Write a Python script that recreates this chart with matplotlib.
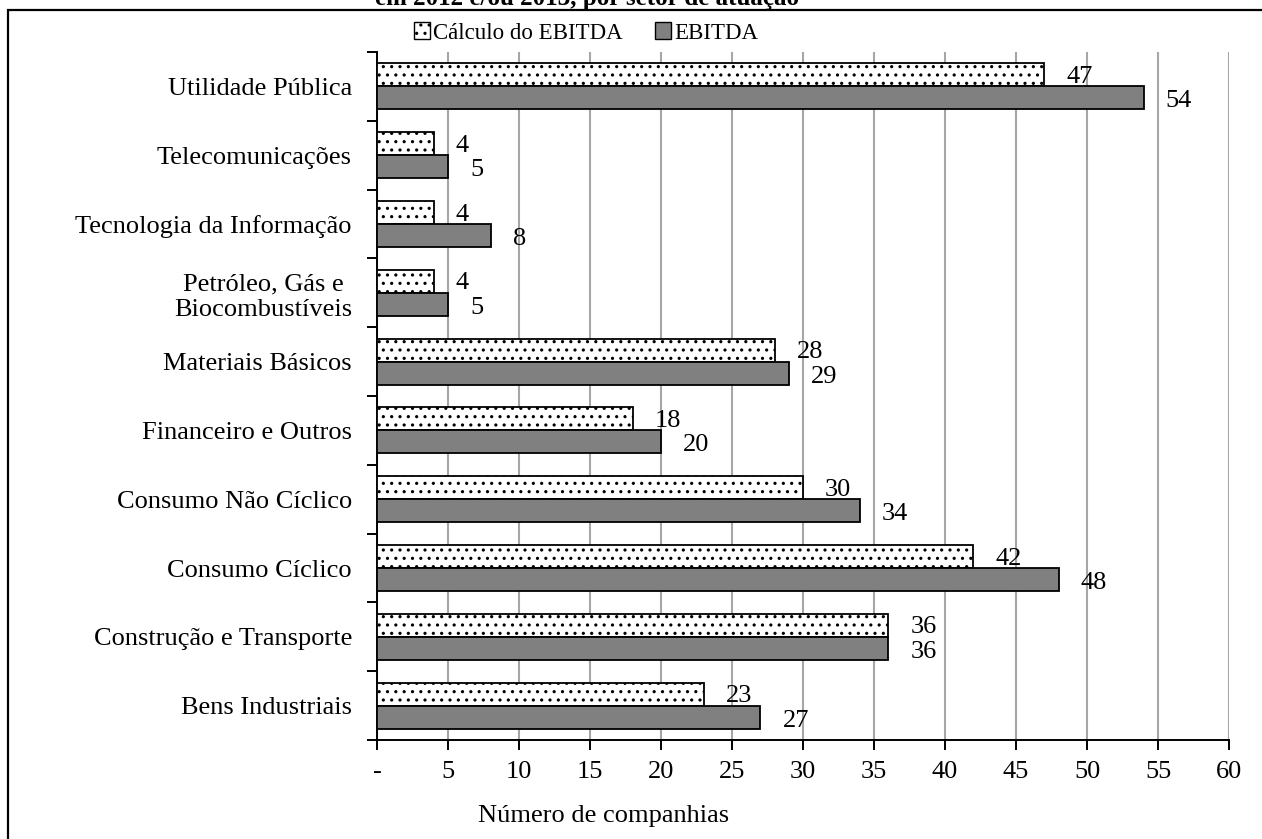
import matplotlib.pyplot as plt
from matplotlib.patches import Rectangle, Patch
import numpy as np

plt.rcParams['font.family'] = ['Liberation Serif', 'DejaVu Serif']
plt.rcParams['hatch.linewidth'] = 1.1

# Sectors listed bottom to top
sectors = ['Bens Industriais', 'Construção e Transporte', 'Consumo Cíclico',
           'Consumo Não Cíclico', 'Financeiro e Outros', 'Materiais Básicos',
           'Petróleo, Gás e\nBiocombustíveis', 'Tecnologia da Informação',
           'Telecomunicações', 'Utilidade Pública']
calculo_ebitda = [23, 36, 42, 30, 18, 28, 4, 4, 4, 47]
ebitda = [27, 36, 48, 34, 20, 29, 5, 8, 5, 54]

x_ticks = list(range(0, 61, 5))
x_labels = ['-'] + [str(t) for t in x_ticks[1:]]

FS = 19
LABEL_GAP = 1.55  # data units between bar end and its value label

fig = plt.figure(figsize=(12.62, 8.39), dpi=100)
ax = fig.add_axes([0.2987, 0.118, 0.6752, 0.820])

y = np.arange(len(sectors))
h = 0.335
ax.barh(y + h / 2, calculo_ebitda, height=h, color='white', edgecolor='black',
        hatch='..', linewidth=1.3, zorder=3)
ax.barh(y - h / 2, ebitda, height=h, color='#808080', edgecolor='black',
        linewidth=1.3, zorder=3)

for i in range(len(sectors)):
    ax.text(calculo_ebitda[i] + LABEL_GAP, y[i] + h / 2 - 0.03,
            str(calculo_ebitda[i]), ha='left', va='center', fontsize=FS)
    ax.text(ebitda[i] + LABEL_GAP, y[i] - h / 2 - 0.05,
            str(ebitda[i]), ha='left', va='center', fontsize=FS)

ax.set_xlim(0, 60)
ax.set_ylim(-0.5, len(sectors) - 0.5)
ax.set_xticks(x_ticks)
ax.set_xticklabels(x_labels, fontsize=FS)
ax.set_yticks(y)
ax.set_yticklabels(sectors, fontsize=FS, ha='right', multialignment='center')
ax.set_yticks(np.arange(-0.5, len(sectors)), minor=True)
ax.tick_params(axis='y', which='major', length=0, pad=18)
ax.tick_params(axis='y', which='minor', length=7, width=1.4, direction='out')
ax.tick_params(axis='x', length=7, width=1.4, direction='out', pad=8)

ax.grid(axis='x', color='#a6a6a6', linewidth=1.5, zorder=0)
ax.set_axisbelow(True)
for side in ['top', 'right']:
    ax.spines[side].set_visible(False)
for side in ['left', 'bottom']:
    ax.spines[side].set_linewidth(1.4)
ax.set_xlabel('Número de companhias', fontsize=FS)
ax.xaxis.set_label_coords(0.266, -0.094)

handles = [Patch(facecolor='white', edgecolor='black', hatch='..', linewidth=1.0),
           Patch(facecolor='#808080', edgecolor='black', linewidth=1.0)]
fig.legend(handles, ['Cálculo do EBITDA', 'EBITDA'], loc='center',
           bbox_to_anchor=(586 / 1262, 1 - 33 / 839), ncol=2, frameon=False,
           fontsize=16.5, handlelength=0.7, handleheight=0.7, handletextpad=0.15,
           columnspacing=1.4)

fig.text(587 / 1262, 1 - 5 / 839, 'em 2012 e/ou 2013, por setor de atuação',
         ha='center', va='baseline', fontsize=18, fontweight='bold')

fig.patches.append(Rectangle((8 / 1262, -0.1), 1.2, 1.1 - 10 / 839,
                             transform=fig.transFigure, fill=False,
                             edgecolor='black', linewidth=1.6))

fig.savefig('out.png', dpi=100)
